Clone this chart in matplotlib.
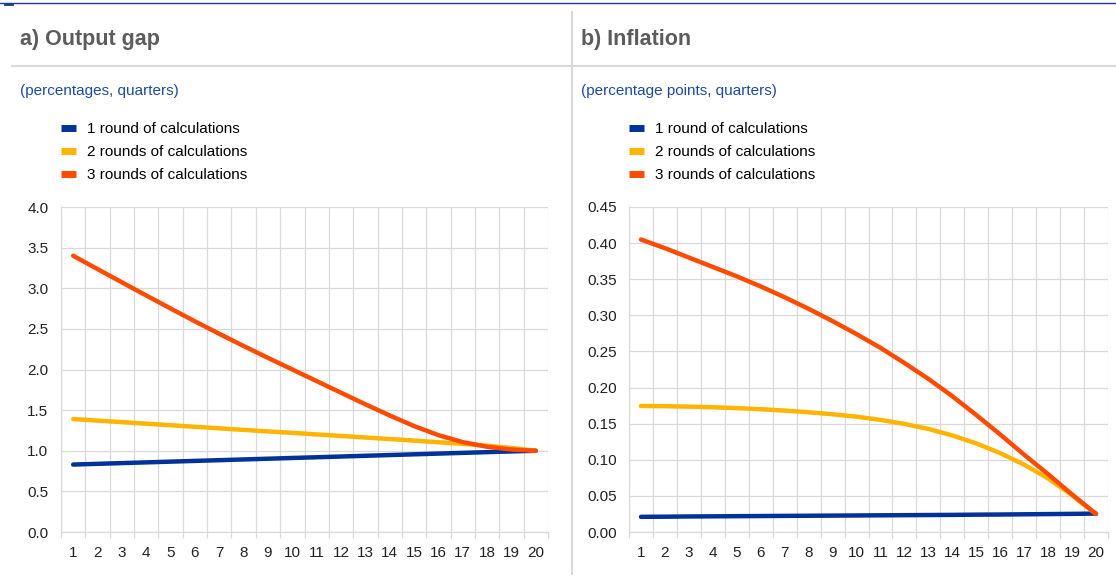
import numpy as np
import matplotlib
matplotlib.use("Agg")
import matplotlib.pyplot as plt
from matplotlib.lines import Line2D

plt.rcParams['font.family'] = ['Liberation Sans', 'DejaVu Sans']

# data
quarters = list(range(1, 21))
series_labels = ["1 round of calculations", "2 rounds of calculations", "3 rounds of calculations"]
series_colors = ["#003299", "#FFB400", "#FF4B00"]

gap_round1 = [0.830, 0.839, 0.848, 0.857, 0.866, 0.875, 0.884, 0.893, 0.902, 0.911,
              0.920, 0.929, 0.938, 0.947, 0.956, 0.965, 0.974, 0.983, 0.992, 1.000]
gap_round2 = [1.390, 1.371, 1.352, 1.333, 1.314, 1.295, 1.276, 1.257, 1.238, 1.220,
              1.201, 1.182, 1.163, 1.144, 1.125, 1.105, 1.085, 1.062, 1.034, 1.000]
gap_round3 = [3.400, 3.236, 3.073, 2.911, 2.751, 2.593, 2.439, 2.289, 2.143, 2.000,
              1.857, 1.714, 1.572, 1.434, 1.304, 1.192, 1.106, 1.049, 1.015, 1.000]

infl_round1 = [0.0210, 0.0212, 0.0215, 0.0217, 0.0219, 0.0221, 0.0223, 0.0225, 0.0227, 0.0229,
               0.0231, 0.0233, 0.0235, 0.0237, 0.0240, 0.0242, 0.0245, 0.0248, 0.0251, 0.0255]
infl_round2 = [0.1745, 0.1742, 0.1736, 0.1727, 0.1715, 0.1700, 0.1681, 0.1658, 0.1630, 0.1597,
               0.1552, 0.1497, 0.1427, 0.1337, 0.1227, 0.1092, 0.0932, 0.0742, 0.0507, 0.0250]
infl_round3 = [0.405, 0.393, 0.380, 0.367, 0.354, 0.340, 0.325, 0.309, 0.292, 0.274,
               0.255, 0.234, 0.212, 0.188, 0.162, 0.135, 0.107, 0.080, 0.052, 0.025]

gap_yticks = np.arange(0, 4.01, 0.5)
infl_yticks = np.arange(0, 0.451, 0.05)

W, H = 1116, 582
fig = plt.figure(figsize=(W / 100, H / 100), dpi=100)

grid_col = "#d9d9d9"
title_col = "#5c5c5c"
sub_col = "#1f4aa0"


def fx(px):
    return px / W


def fy(py):
    return 1 - py / H


# frame decorations
fig.add_artist(Line2D([fx(0), fx(1116)], [fy(3), fy(3)], color="#1a3a8c", lw=1.0))
fig.add_artist(Line2D([fx(5), fx(12)], [fy(4), fy(4)], color="#1a3a8c", lw=2.0))
fig.add_artist(Line2D([fx(12), fx(1116)], [fy(66), fy(66)], color="#d9d9d9", lw=1.5))
fig.add_artist(Line2D([fx(572), fx(572)], [fy(12), fy(574)], color="#d9d9d9", lw=1.5))


def panel(rect, title, subtitle, title_x, leg_x, data, yticks, fmt):
    ax = fig.add_axes(rect)
    for vals, lab, col in zip(data, series_labels, series_colors):
        ax.plot(quarters, vals, color=col, lw=3.2, label=lab,
                solid_capstyle="round", solid_joinstyle="round")
    ax.set_xlim(0.5, 20.5)
    ax.set_ylim(yticks[0], yticks[-1])
    ax.set_yticks(yticks)
    ax.set_yticklabels([fmt.format(v) for v in yticks])
    ax.set_xticks(quarters)
    ax.set_xticks(np.arange(0.5, 20.6, 1), minor=True)
    ax.grid(True, which="minor", axis="x", color=grid_col, lw=0.9)
    ax.grid(True, which="major", axis="y", color=grid_col, lw=0.9)
    ax.set_axisbelow(True)
    for s in ["top", "right"]:
        ax.spines[s].set_visible(False)
    for s in ["left", "bottom"]:
        ax.spines[s].set_color(grid_col)
        ax.spines[s].set_linewidth(0.9)
    ax.tick_params(axis="both", which="major", length=0, labelsize=11,
                   colors="#222222")
    ax.tick_params(axis="x", which="major", pad=10)
    ax.tick_params(axis="x", which="minor", length=4, color=grid_col, width=0.9)
    ax.tick_params(axis="y", pad=9)

    fig.text(fx(title_x), fy(40), title, fontsize=15.5, fontweight="bold",
             color=title_col, va="center")
    fig.text(fx(title_x), fy(91), subtitle, fontsize=11, color=sub_col, va="center")
    ax.legend(loc="upper left", bbox_to_anchor=(fx(leg_x), fy(122)),
              bbox_transform=fig.transFigure, frameon=False, fontsize=11,
              handlelength=0.95, handletextpad=0.72, labelspacing=0.6,
              borderaxespad=0, borderpad=0)
    for h in ax.get_legend().legend_handles:
        h.set_linewidth(5)
        h.set_solid_capstyle("butt")
    return ax


panel([fx(61), fy(532), fx(548) - fx(61), fy(207) - fy(532)],
      "a) Output gap", "(percentages, quarters)", 20, 61,
      [gap_round1, gap_round2, gap_round3], gap_yticks, "{:.1f}")
panel([fx(629), fy(532), fx(1108) - fx(629), fy(207) - fy(532)],
      "b) Inflation", "(percentage points, quarters)", 581, 629,
      [infl_round1, infl_round2, infl_round3], infl_yticks, "{:.2f}")

fig.savefig("out.png", dpi=100)
